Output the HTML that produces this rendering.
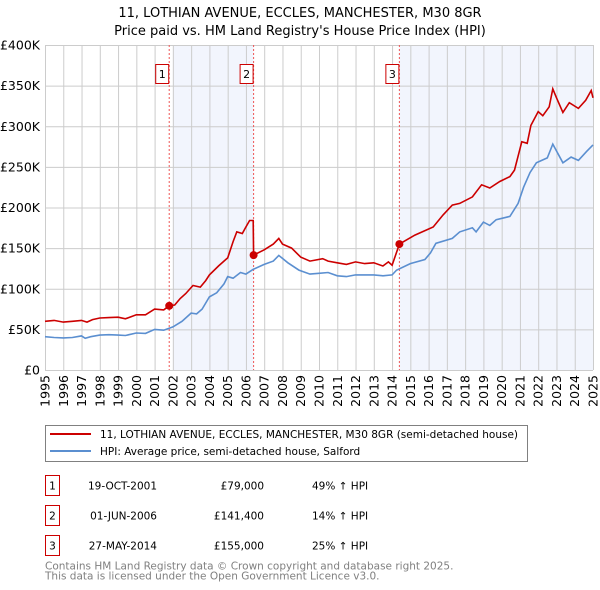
<!DOCTYPE html>
<html><head><meta charset="utf-8"><style>
body{margin:0;background:#fff;}
svg{display:block;font-family:"DejaVu Sans","Liberation Sans",sans-serif;}
</style></head><body>
<svg id="c" width="600" height="590" xmlns="http://www.w3.org/2000/svg">
<text x="300" y="17" text-anchor="middle" font-size="13" fill="#000">11, LOTHIAN AVENUE, ECCLES, MANCHESTER, M30 8GR</text>
<text x="300" y="35" text-anchor="middle" font-size="13" fill="#000">Price paid vs. HM Land Registry's House Price Index (HPI)</text>
<g id="shade"></g><g id="grid"></g><g id="yt"></g><g id="xt"></g><g id="vl"></g><g id="series"></g><g id="marks"></g>
<rect x="45.5" y="425.5" width="482" height="36" fill="#fff" stroke="#808080"/>
<line x1="50" y1="434" x2="91" y2="434" stroke="#cc0000" stroke-width="2"/>
<text x="100" y="438" font-size="10.5">11, LOTHIAN AVENUE, ECCLES, MANCHESTER, M30 8GR (semi-detached house)</text>
<line x1="50" y1="451" x2="91" y2="451" stroke="#5b8fd0" stroke-width="2"/>
<text x="100" y="455" font-size="10.5">HPI: Average price, semi-detached house, Salford</text>
<g font-size="10.5">
<rect x="45.5" y="475.5" width="14" height="20" fill="none" stroke="#cc0000"/><text x="52.5" y="489.5" text-anchor="middle">1</text>
<text x="157" y="489.5" text-anchor="end">19-OCT-2001</text>
<text x="264" y="489.5" text-anchor="end">£79,000</text>
<text x="312" y="489.5">49% ↑ HPI</text>
<rect x="45.5" y="505.5" width="14" height="20" fill="none" stroke="#cc0000"/><text x="52.5" y="519.5" text-anchor="middle">2</text>
<text x="157" y="519.5" text-anchor="end">01-JUN-2006</text>
<text x="264" y="519.5" text-anchor="end">£141,400</text>
<text x="312" y="519.5">14% ↑ HPI</text>
<rect x="45.5" y="535.5" width="14" height="20" fill="none" stroke="#cc0000"/><text x="52.5" y="549.5" text-anchor="middle">3</text>
<text x="157" y="549.5" text-anchor="end">27-MAY-2014</text>
<text x="264" y="549.5" text-anchor="end">£155,000</text>
<text x="312" y="549.5">25% ↑ HPI</text>
</g>
<text x="45" y="569.5" font-size="10.5" fill="#808080">Contains HM Land Registry data © Crown copyright and database right 2025.</text>
<text x="45" y="579.5" font-size="10.5" fill="#808080">This data is licensed under the Open Government Licence v3.0.</text>
</svg>
<script>
const yTicks=[0,50,100,150,200,250,300,350,400];
const yTickLabels=["£0","£50K","£100K","£150K","£200K","£250K","£300K","£350K","£400K"];
const xYears=[1995,1996,1997,1998,1999,2000,2001,2002,2003,2004,2005,2006,2007,2008,2009,2010,2011,2012,2013,2014,2015,2016,2017,2018,2019,2020,2021,2022,2023,2024,2025];
const hpiT=[1995,1995.5,1996,1996.5,1997,1997.2,1997.5,1998,1998.5,1999,1999.4,2000,2000.5,2001,2001.5,2002,2002.5,2003,2003.3,2003.6,2004,2004.4,2004.8,2005,2005.3,2005.7,2006,2006.4,2007,2007.5,2007.8,2008.3,2008.9,2009.5,2010,2010.5,2011,2011.5,2012,2012.5,2013,2013.5,2014,2014.25,2015,2015.8,2016.1,2016.4,2017.3,2017.7,2018.4,2018.6,2019,2019.35,2019.7,2020.45,2020.9,2021.2,2021.55,2021.9,2022.5,2022.8,2023.35,2023.8,2024.2,2024.65,2025];
const hpiV=[41,40,39.5,40,42,39,41,43,43.5,43,42.5,45.5,45,50,49,53,60,70,69,75,90,95,106,115,113,120,118,124,130,134,141,132,123,118,119,120,116,115,117,117,117,116,117,123,131,136,144,156,162,170,175,170,182,178,185,189,205,225,243,255,261,278,255,262,258,269,277];
const propT=[1995,1995.5,1996,1996.5,1997,1997.3,1997.6,1998,1998.5,1999,1999.4,2000,2000.5,2001,2001.5,2001.8,2002.1,2002.4,2002.7,2003.1,2003.5,2003.8,2004,2004.5,2004.9,2005,2005.3,2005.5,2005.8,2006,2006.2,2006.4,2006.42,2007,2007.5,2007.8,2008,2008.5,2009,2009.5,2010.2,2010.5,2011,2011.5,2012,2012.5,2013,2013.5,2013.8,2014.0,2014.4,2015.25,2016.25,2016.8,2017.3,2017.7,2018.4,2018.9,2019.35,2019.9,2020.45,2020.7,2021.1,2021.4,2021.6,2022.0,2022.25,2022.6,2022.8,2023.0,2023.35,2023.7,2024.2,2024.6,2024.9,2025];
const propV=[60,61,59,60,61,59,62,64,64.5,65,63,68,68,75,74,79,80,88,94,104,102,110,117,128,136,138,158,170,168,176,184,184,141.4,148,155,162,155,150,139,134,137,134,132,130,133,131,132,128,133,129,155,166,176,191,203,205,213,228,224,232,238,246,281,279,301,318,313,324,346,335,317,329,322,332,344,335];
const sales=[[2001.8,79],[2006.42,141.4],[2014.4,155]];
const shadeSpans=[[2002,2006.42],[2014.4,2025]];
const L=45,R=593,T=45,B=370;
const X=y=>L+(y-1995)*(R-L)/30;
const Y=v=>B-v*(B-T)/400;
const NS="http://www.w3.org/2000/svg";
function mk(p,t,a){const e=document.createElementNS(NS,t);for(const k in a)e.setAttribute(k,a[k]);document.getElementById(p).appendChild(e);return e;}
shadeSpans.forEach((s,i)=>{const e=mk('shade','rect',{x:X(s[0]),y:T,width:X(s[1])-X(s[0]),height:B-T,fill:'#eef2fc',opacity:0.75});

});
yTicks.forEach((v,i)=>{const g=mk('grid','line',{x1:L,x2:R,y1:Y(v)+0.5,y2:Y(v)+0.5,stroke:'#cccccc'});


const t=mk('yt','text',{x:40,y:Y(v)+4.5,'text-anchor':'end','font-size':'12.5'});t.textContent=yTickLabels[i];

});
xYears.forEach(y=>{const g=mk('grid','line',{x1:X(y)+0.5,x2:X(y)+0.5,y1:T,y2:B,stroke:'#cccccc'});


const t=mk('xt','text',{x:0,y:0,'font-size':'12.5','text-anchor':'end',transform:`translate(${X(y)+4.5},375) rotate(-90)`});t.textContent=y;

});
sales.forEach((s,i)=>{const l=mk('vl','line',{x1:X(s[0]),x2:X(s[0]),y1:T,y2:B,stroke:'#ee5555','stroke-dasharray':'2,2'});


const r=mk('vl','rect',{x:X(s[0])-13.5,y:64.5,width:13,height:19,fill:'#fff',stroke:'#cc0000'});


const t=mk('vl','text',{x:X(s[0])-7,y:78,'text-anchor':'middle','font-size':'11'});t.textContent=i+1;

});
const pth=(t,v)=>t.map((x,i)=>(i?'L':'M')+X(x).toFixed(1)+','+Y(v[i]).toFixed(1)).join('');
const h=mk('series','path',{d:pth(hpiT,hpiV),fill:'none',stroke:'#5b8fd0','stroke-width':1.6});


const p=mk('series','path',{d:pth(propT,propV),fill:'none',stroke:'#cc0000','stroke-width':1.6});


sales.forEach(s=>{const c=mk('marks','circle',{cx:X(s[0]),cy:Y(s[1]),r:4,fill:'#cc0000'});

});
</script>
</body></html>
